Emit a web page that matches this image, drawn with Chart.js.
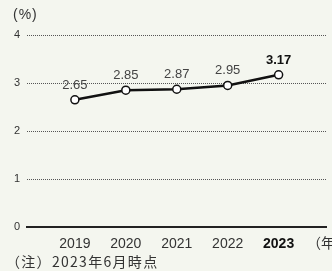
<!DOCTYPE html>
<html>
<head>
<meta charset="utf-8">
<script src="https://cdn.jsdelivr.net/npm/chart.js@4/dist/chart.umd.min.js"></script>
<style>
  body { margin: 0; background: #f4f6ef; }
  #wrap { position: relative; width: 332px; height: 271px; overflow: hidden; }
  #unit { position: absolute; left: 13px; top: 6px; font: 14px "Liberation Sans", Arial, sans-serif; letter-spacing: 1px; color: #333; }
  #note { position: absolute; left: 6px; top: 253px; font: 14px "Noto Sans CJK JP", sans-serif; letter-spacing: 1.3px; color: #333; white-space: nowrap; line-height: 16px; }
  #xunit { position: absolute; left: 307px; top: 234px; font: 14px "Noto Sans CJK JP", sans-serif; color: #333; white-space: nowrap; line-height: 16px; }
</style>
</head>
<body>
<div id="wrap">
  <canvas id="chart" width="332" height="271"></canvas>
  <div id="unit">(%)</div>
  <div id="xunit">（年）</div>
  <div id="note">（注）2023年6月時点</div>
</div>
<script>
const years = [2019, 2020, 2021, 2022, 2023];
const rates = [2.65, 2.85, 2.87, 2.95, 3.17];
const yTicks = [0, 1, 2, 3, 4];
const highlightYear = 2023;

const fontFamily = '"Liberation Sans", Arial, sans-serif';
const xMin = 2018.06;
const xMax = 2023.94;

const valueLabels = {
    id: "valueLabels",
    afterDatasetsDraw(chart) {
        const ctx = chart.ctx;
        const meta = chart.getDatasetMeta(0);
        ctx.save();
        ctx.textAlign = "center";
        ctx.textBaseline = "bottom";
        meta.data.forEach(function (pt, i) {
            const hi = years[i] === highlightYear;
            ctx.font = (hi ? "bold " : "") + "13px " + fontFamily;
            ctx.fillStyle = hi ? "#111" : "#444";
            ctx.fillText(rates[i].toFixed(2), pt.x, pt.y - 8);
        });
        ctx.restore();
    },
};

new Chart(document.getElementById("chart"), {
    type: "line",
    data: {
        datasets: [
            {
                data: years.map((y, i) => ({ x: y, y: rates[i] })),
                borderColor: "#111",
                borderWidth: 2.5,
                pointBackgroundColor: "#fff",
                pointBorderColor: "#111",
                pointBorderWidth: 1.5,
                pointRadius: 4,
                tension: 0,
            },
        ],
    },
    options: {
        responsive: false,
        animation: false,
        layout: { padding: { top: 35, left: 0, right: 0, bottom: 0 } },
        plugins: { legend: { display: false }, tooltip: { enabled: false } },
        scales: {
            x: {
                type: "linear",
                min: xMin,
                max: xMax,
                afterBuildTicks: (s) => { s.ticks = years.map((v) => ({ value: v })); },
                afterFit: (s) => { s.height = 44; },
                grid: { display: false, drawTicks: false },
                border: { color: "#222", width: 2 },
                ticks: {
                    autoSkip: false,
                    maxRotation: 0,
                    padding: 9,
                    callback: (v) => String(v),
                    color: (c) => (c.tick && c.tick.value === highlightYear ? "#111" : "#333"),
                    font: (c) => ({
                        family: fontFamily,
                        size: 14,
                        weight: c.tick && c.tick.value === highlightYear ? "bold" : "normal",
                    }),
                },
            },
            y: {
                min: yTicks[0],
                max: yTicks[yTicks.length - 1],
                afterFit: (s) => { s.width = 27; },
                border: { display: false, dash: [1, 1] },
                grid: { color: "#555", lineWidth: 1, drawTicks: false },
                ticks: {
                    stepSize: 1,
                    padding: 7,
                    color: "#333",
                    font: { family: fontFamily, size: 11 },
                },
            },
        },
    },
    plugins: [valueLabels],
});
</script>
</body>
</html>
